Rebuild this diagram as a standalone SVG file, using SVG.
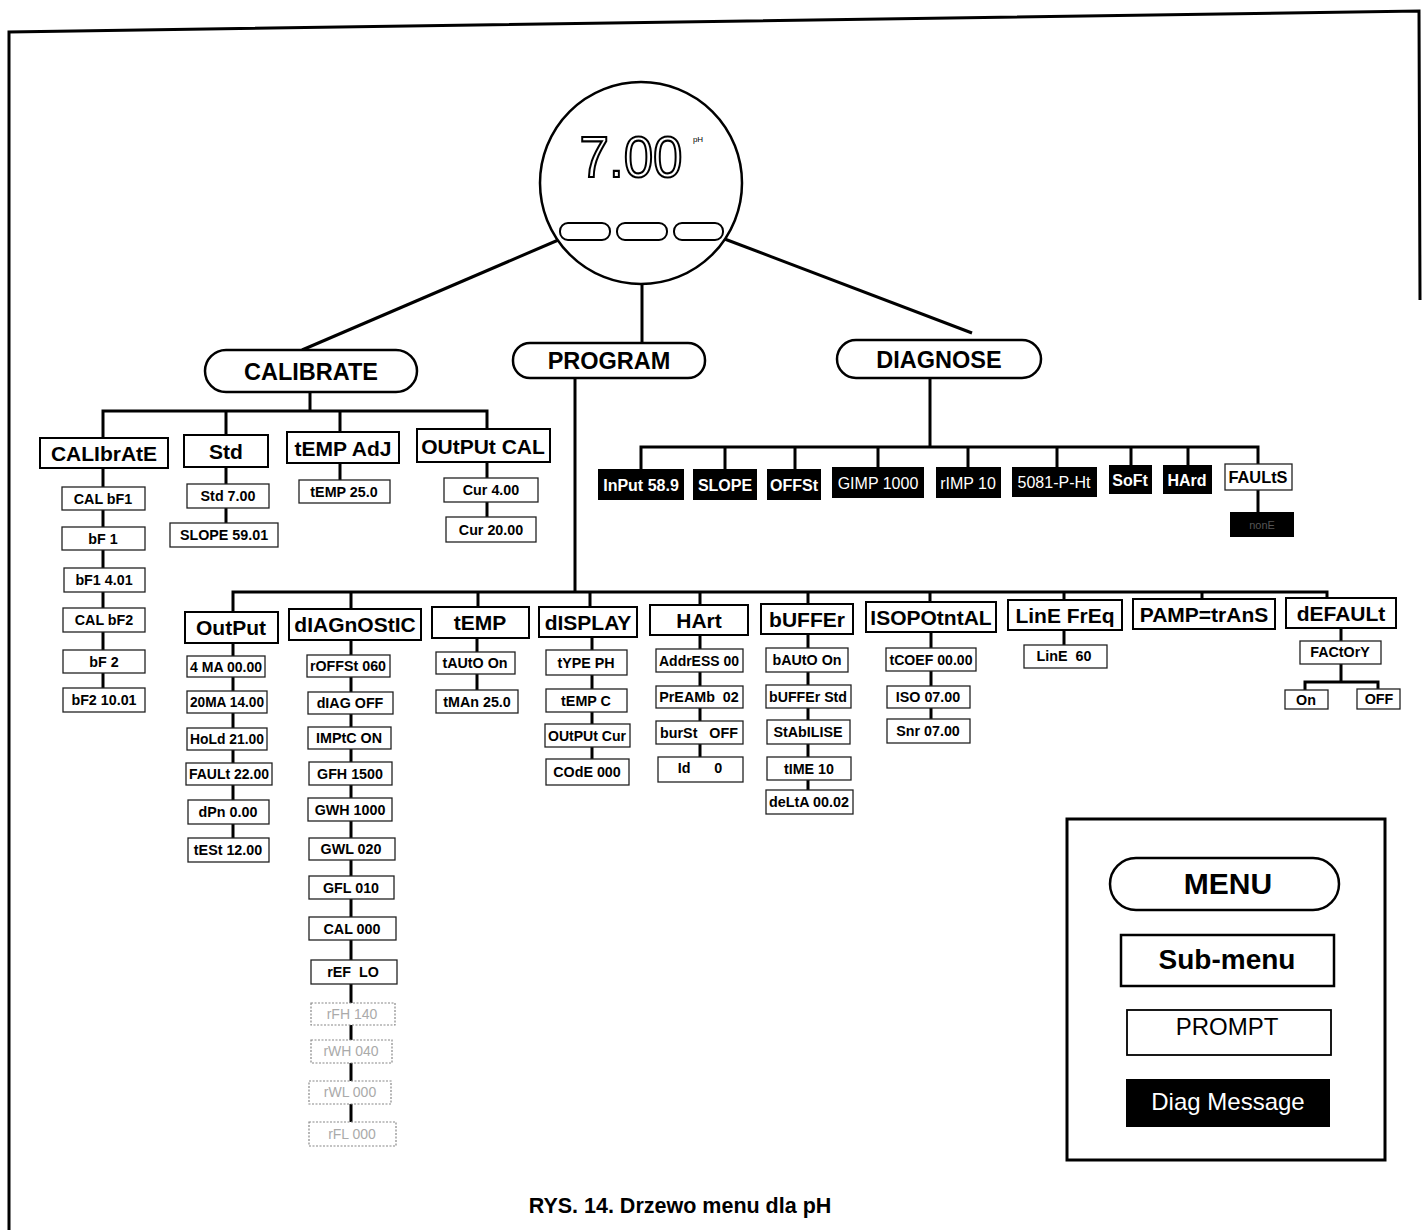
<svg xmlns="http://www.w3.org/2000/svg" width="1422" height="1230" viewBox="0 0 1422 1230">
<style>
.sm{fill:#fff;stroke:#000;stroke-width:2}
.pr{fill:#fff;stroke:#222;stroke-width:1.3}
.fa{fill:#fff;stroke:#888;stroke-width:1.2;stroke-dasharray:2 1.5}
.dg{fill:#000}
.pill{fill:#fff;stroke:#000;stroke-width:2.5}
.ln{fill:none;stroke:#000;stroke-width:3}
text{font-family:"Liberation Sans",Arial,sans-serif;text-anchor:middle}
.t1{font-size:21px;font-weight:bold}
.t0{font-size:23.5px;font-weight:bold}
.t2{font-size:14.3px;font-weight:bold}
.tf{font-size:14px;fill:#aaa}
.t3{font-size:16px;font-weight:bold;fill:#fff}
.t3r{font-size:16px;fill:#fff}
</style>
<rect width="1422" height="1230" fill="#fff"/>
<g id="frame" fill="none" stroke="#000" stroke-width="3">
<polyline points="9,1230 9,32 1419,11 1420,300"/>
</g>
<g id="connectors" class="ln">
<line x1="563" y1="238" x2="302" y2="350"/>
<line x1="642" y1="240" x2="642" y2="343"/>
<line x1="722" y1="238" x2="972" y2="333"/>
<path d="M310,392V411"/>
<path d="M103,438V411H487V429"/>
<path d="M226,411V435M340,411V432"/>
<path d="M103,468V688M226,467V523M340,463V480M487,462V517"/>
<path d="M930,378V447"/>
<path d="M641,469V447H1258V464"/>
<path d="M725,447V469M795,447V469M878,447V467M968,447V467M1057,447V467M1131,447V465M1188,447V465"/>
<path d="M1258,490V512"/>
<path d="M575,378V592"/>
<path d="M233,612V592H1327V598"/>
<path d="M351,592V609M478,592V607M590,592V607M700,592V605M808,592V604M930,592V602M1064,592V600M1202,592V599"/>
<path d="M233,643V838M351,640V1122M477,638V690M592,637V759M700,635V757M808,634V790M931,632V719M1064,630V645"/>
<path d="M1341,628V641M1341,664V682M1305,690V682H1378V689"/>
</g>
<g id="display">
<circle cx="641" cy="183" r="101" fill="#fff" stroke="#000" stroke-width="2.5"/>
<text x="631" y="177" font-family="DejaVu Sans,sans-serif" font-size="58" fill="#fff" stroke="#000" stroke-width="2.2" textLength="103" lengthAdjust="spacingAndGlyphs">7.00</text>
<text x="698" y="142" font-size="8" fill="#000">pH</text>
<rect x="560" y="223" width="50" height="17" rx="8" fill="#fff" stroke="#000" stroke-width="2"/>
<rect x="617" y="223" width="50" height="17" rx="8" fill="#fff" stroke="#000" stroke-width="2"/>
<rect x="674" y="223" width="49" height="17" rx="8" fill="#fff" stroke="#000" stroke-width="2"/>
</g>
<g id="calibrate"><rect class="pill" x="205" y="350" width="212" height="42" rx="21"/><text class="t0" x="311" y="380">CALIBRATE</text></g>
<g id="program"><rect class="pill" x="513" y="343" width="192" height="35" rx="17"/><text class="t0" x="609" y="369">PROGRAM</text></g>
<g id="diagnose"><rect class="pill" x="837" y="340" width="204" height="38" rx="19"/><text class="t0" x="939" y="368">DIAGNOSE</text></g>
<g id="n-calibrate"><rect class="sm" x="40" y="438" width="128" height="30"/><text class="t1" x="104" y="461">CALIbrAtE</text></g>
<g id="n-std"><rect class="sm" x="184" y="435" width="84" height="32"/><text class="t1" x="226" y="459">Std</text></g>
<g id="n-tempadj"><rect class="sm" x="287" y="432" width="112" height="31"/><text class="t1" x="343" y="456">tEMP AdJ</text></g>
<g id="n-outputcal"><rect class="sm" x="417" y="429" width="133" height="33"/><text class="t1" x="483" y="454">OUtPUt CAL</text></g>
<g id="p-calbf1"><rect class="pr" x="62" y="487" width="83" height="23"/><text class="t2" x="103" y="504">CAL bF1</text></g>
<g id="p-bf1"><rect class="pr" x="62" y="527" width="83" height="23"/><text class="t2" x="103" y="544">bF 1</text></g>
<g id="p-bf1v"><rect class="pr" x="64" y="568" width="81" height="24"/><text class="t2" x="104" y="585">bF1 4.01</text></g>
<g id="p-calbf2"><rect class="pr" x="63" y="608" width="82" height="24"/><text class="t2" x="104" y="625">CAL bF2</text></g>
<g id="p-bf2"><rect class="pr" x="63" y="650" width="82" height="23"/><text class="t2" x="104" y="667">bF 2</text></g>
<g id="p-bf2v"><rect class="pr" x="63" y="688" width="82" height="24"/><text class="t2" x="104" y="705">bF2 10.01</text></g>
<g id="p-std700"><rect class="pr" x="187" y="484" width="82" height="24"/><text class="t2" x="228" y="501">Std 7.00</text></g>
<g id="p-slope"><rect class="pr" x="170" y="523" width="108" height="24"/><text class="t2" x="224" y="540">SLOPE 59.01</text></g>
<g id="p-temp25"><rect class="pr" x="299" y="480" width="91" height="23"/><text class="t2" x="344" y="497">tEMP 25.0</text></g>
<g id="p-cur4"><rect class="pr" x="444" y="478" width="94" height="24"/><text class="t2" x="491" y="495">Cur 4.00</text></g>
<g id="p-cur20"><rect class="pr" x="446" y="517" width="90" height="25"/><text class="t2" x="491" y="535">Cur 20.00</text></g>
<g id="d-input"><rect class="dg" x="598" y="469" width="86" height="31"/><text class="t3" x="641" y="491">InPut 58.9</text></g>
<g id="d-slope"><rect class="dg" x="693" y="469" width="64" height="31"/><text class="t3" x="725" y="491">SLOPE</text></g>
<g id="d-offst"><rect class="dg" x="767" y="469" width="54" height="31"/><text class="t3" x="794" y="491" textLength="48" lengthAdjust="spacingAndGlyphs">OFFSt</text></g>
<g id="d-gimp"><rect class="dg" x="832" y="467" width="92" height="31"/><text class="t3r" x="878" y="489">GIMP 1000</text></g>
<g id="d-rimp"><rect class="dg" x="936" y="467" width="65" height="31"/><text class="t3r" x="968" y="489">rIMP 10</text></g>
<g id="d-5081"><rect class="dg" x="1012" y="467" width="85" height="30"/><text class="t3r" x="1054" y="488">5081-P-Ht</text></g>
<g id="d-soft"><rect class="dg" x="1109" y="465" width="43" height="29"/><text class="t3" x="1130" y="486">SoFt</text></g>
<g id="d-hard"><rect class="dg" x="1163" y="465" width="49" height="29"/><text class="t3" x="1187" y="486">HArd</text></g>
<g id="d-faults"><rect class="pr" x="1225" y="464" width="67" height="26" stroke-width="1.6"/><text x="1258" y="483" font-size="16.5" font-weight="bold" textLength="59" lengthAdjust="spacingAndGlyphs">FAULtS</text></g>
<g id="d-fault-msg"><rect class="dg" x="1230" y="512" width="64" height="25"/><text x="1262" y="529" font-size="11" fill="#555">nonE</text></g>
<g id="n-output"><rect class="sm" x="185" y="612" width="93" height="31"/><text class="t1" x="231" y="635">OutPut</text></g>
<g id="n-diagnostic"><rect class="sm" x="289" y="609" width="132" height="31"/><text class="t1" x="355" y="632">dIAGnOStIC</text></g>
<g id="n-temp"><rect class="sm" x="432" y="607" width="97" height="31"/><text class="t1" x="480" y="630">tEMP</text></g>
<g id="n-display"><rect class="sm" x="539" y="607" width="98" height="30"/><text class="t1" x="588" y="630">dISPLAY</text></g>
<g id="n-hart"><rect class="sm" x="650" y="605" width="98" height="30"/><text class="t1" x="699" y="628">HArt</text></g>
<g id="n-buffer"><rect class="sm" x="761" y="604" width="92" height="30"/><text class="t1" x="807" y="627">bUFFEr</text></g>
<g id="n-isopot"><rect class="sm" x="866" y="602" width="130" height="30"/><text class="t1" x="931" y="625">ISOPOtntAL</text></g>
<g id="n-linefreq"><rect class="sm" x="1008" y="600" width="114" height="30"/><text class="t1" x="1065" y="623">LinE FrEq</text></g>
<g id="n-pamp"><rect class="sm" x="1133" y="599" width="142" height="30"/><text class="t1" x="1204" y="622">PAMP=trAnS</text></g>
<g id="n-default"><rect class="sm" x="1286" y="598" width="110" height="30"/><text class="t1" x="1341" y="621">dEFAULt</text></g>
<g id="p-4ma"><rect class="pr" x="187" y="656" width="78" height="21"/><text class="t2" x="226" y="672" textLength="72" lengthAdjust="spacingAndGlyphs">4 MA 00.00</text></g>
<g id="p-20ma"><rect class="pr" x="187" y="691" width="80" height="22"/><text class="t2" x="227" y="707" textLength="74" lengthAdjust="spacingAndGlyphs">20MA 14.00</text></g>
<g id="p-hold"><rect class="pr" x="187" y="728" width="80" height="22"/><text class="t2" x="227" y="744" textLength="74" lengthAdjust="spacingAndGlyphs">HoLd 21.00</text></g>
<g id="p-fault"><rect class="pr" x="186" y="763" width="86" height="22"/><text class="t2" x="229" y="779" textLength="80" lengthAdjust="spacingAndGlyphs">FAULt 22.00</text></g>
<g id="p-dpn"><rect class="pr" x="188" y="800" width="81" height="24"/><text class="t2" x="228" y="817">dPn 0.00</text></g>
<g id="p-test"><rect class="pr" x="188" y="838" width="81" height="24"/><text class="t2" x="228" y="855">tESt 12.00</text></g>
<g id="p-roffst"><rect class="pr" x="307" y="655" width="83" height="22"/><text class="t2" x="348" y="671" textLength="76" lengthAdjust="spacingAndGlyphs">rOFFSt 060</text></g>
<g id="p-diag"><rect class="pr" x="308" y="692" width="85" height="22"/><text class="t2" x="350" y="708">dIAG OFF</text></g>
<g id="p-imptc"><rect class="pr" x="308" y="727" width="83" height="22"/><text class="t2" x="349" y="743">IMPtC ON</text></g>
<g id="p-gfh"><rect class="pr" x="309" y="762" width="83" height="23"/><text class="t2" x="350" y="779">GFH 1500</text></g>
<g id="p-gwh"><rect class="pr" x="308" y="798" width="84" height="23"/><text class="t2" x="350" y="815">GWH 1000</text></g>
<g id="p-gwl"><rect class="pr" x="309" y="838" width="86" height="22"/><text class="t2" x="351" y="854">GWL 020</text></g>
<g id="p-gfl"><rect class="pr" x="309" y="876" width="85" height="23"/><text class="t2" x="351" y="893">GFL 010</text></g>
<g id="p-cal000"><rect class="pr" x="309" y="917" width="87" height="23"/><text class="t2" x="352" y="934">CAL 000</text></g>
<g id="p-ref"><rect class="pr" x="311" y="960" width="86" height="24"/><text class="t2" x="353" y="977" xml:space="preserve">rEF  LO</text></g>
<g id="p-rfh"><rect class="fa" x="311" y="1003" width="84" height="22"/><text class="tf" x="352" y="1019">rFH 140</text></g>
<g id="p-rwh"><rect class="fa" x="311" y="1040" width="81" height="23"/><text class="tf" x="351" y="1056">rWH 040</text></g>
<g id="p-rwl"><rect class="fa" x="309" y="1081" width="82" height="23"/><text class="tf" x="350" y="1097">rWL 000</text></g>
<g id="p-rfl"><rect class="fa" x="309" y="1122" width="87" height="24"/><text class="tf" x="352" y="1139">rFL 000</text></g>
<g id="p-tauto"><rect class="pr" x="436" y="652" width="79" height="22"/><text class="t2" x="475" y="668">tAUtO On</text></g>
<g id="p-tman"><rect class="pr" x="436" y="690" width="82" height="23"/><text class="t2" x="477" y="707">tMAn 25.0</text></g>
<g id="p-type"><rect class="pr" x="546" y="650" width="81" height="25"/><text class="t2" x="586" y="668">tYPE PH</text></g>
<g id="p-tempc"><rect class="pr" x="546" y="689" width="81" height="23"/><text class="t2" x="586" y="706">tEMP C</text></g>
<g id="p-outcur"><rect class="pr" x="545" y="724" width="85" height="23"/><text class="t2" x="587" y="741" textLength="78" lengthAdjust="spacingAndGlyphs">OUtPUt Cur</text></g>
<g id="p-code"><rect class="pr" x="546" y="759" width="83" height="26"/><text class="t2" x="587" y="777">COdE 000</text></g>
<g id="p-addr"><rect class="pr" x="656" y="649" width="87" height="23"/><text class="t2" x="699" y="666" textLength="80" lengthAdjust="spacingAndGlyphs">AddrESS 00</text></g>
<g id="p-pream"><rect class="pr" x="656" y="686" width="87" height="22"/><text class="t2" x="699" y="702" xml:space="preserve">PrEAMb  02</text></g>
<g id="p-burst"><rect class="pr" x="656" y="721" width="87" height="23"/><text class="t2" x="699" y="738" xml:space="preserve">burSt   OFF</text></g>
<g id="p-id"><rect class="pr" x="658" y="757" width="85" height="25"/><text class="t2" x="700" y="773" xml:space="preserve">Id      0</text></g>
<g id="p-bauto"><rect class="pr" x="766" y="648" width="82" height="24"/><text class="t2" x="807" y="665">bAUtO On</text></g>
<g id="p-bstd"><rect class="pr" x="766" y="685" width="85" height="23"/><text class="t2" x="808" y="702" textLength="78" lengthAdjust="spacingAndGlyphs">bUFFEr Std</text></g>
<g id="p-stab"><rect class="pr" x="767" y="720" width="83" height="24"/><text class="t2" x="808" y="737">StAbILISE</text></g>
<g id="p-time"><rect class="pr" x="767" y="757" width="84" height="23"/><text class="t2" x="809" y="774">tIME 10</text></g>
<g id="p-delta"><rect class="pr" x="766" y="790" width="87" height="24"/><text class="t2" x="809" y="807" textLength="80" lengthAdjust="spacingAndGlyphs">deLtA 00.02</text></g>
<g id="p-tcoef"><rect class="pr" x="886" y="648" width="90" height="23"/><text class="t2" x="931" y="665" textLength="83" lengthAdjust="spacingAndGlyphs">tCOEF 00.00</text></g>
<g id="p-iso"><rect class="pr" x="887" y="686" width="83" height="22"/><text class="t2" x="928" y="702">ISO 07.00</text></g>
<g id="p-snr"><rect class="pr" x="887" y="719" width="83" height="24"/><text class="t2" x="928" y="736">Snr 07.00</text></g>
<g id="p-line60"><rect class="pr" x="1024" y="645" width="83" height="23"/><text class="t2" x="1064" y="661" xml:space="preserve">LinE  60</text></g>
<g id="p-factory"><rect class="pr" x="1300" y="641" width="81" height="23"/><text class="t2" x="1340" y="657" font-size="13.5">FACtOrY</text></g>
<g id="p-on"><rect class="pr" x="1285" y="690" width="43" height="19"/><text class="t2" x="1306" y="705">On</text></g>
<g id="p-off"><rect class="pr" x="1357" y="689" width="43" height="20"/><text class="t2" x="1379" y="704">OFF</text></g>
<g id="legend">
<rect x="1067" y="819" width="318" height="341" fill="#fff" stroke="#000" stroke-width="3"/>
<rect x="1110" y="858" width="229" height="52" rx="26" fill="#fff" stroke="#000" stroke-width="2.5"/>
<text x="1228" y="894" font-size="30" font-weight="bold">MENU</text>
<rect x="1121" y="935" width="213" height="51" fill="#fff" stroke="#000" stroke-width="2.5"/>
<text x="1227" y="969" font-size="28" font-weight="bold">Sub-menu</text>
<rect x="1127" y="1010" width="204" height="45" fill="#fff" stroke="#000" stroke-width="1.8"/>
<text x="1227" y="1035" font-size="24">PROMPT</text>
<rect x="1126" y="1079" width="204" height="48" fill="#000"/>
<text x="1228" y="1110" font-size="24" fill="#fff">Diag Message</text>
</g>
<text id="caption" x="680" y="1213" font-size="21.5" font-weight="bold">RYS. 14. Drzewo menu dla pH</text>
</svg>
